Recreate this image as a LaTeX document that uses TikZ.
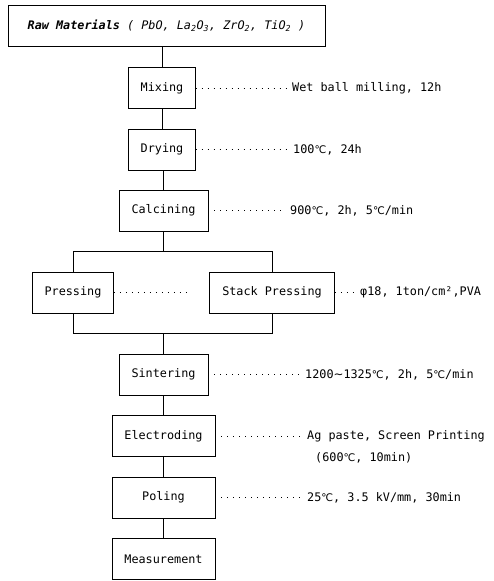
\documentclass[tikz,border=0pt]{standalone}
\usepackage{fontspec}
\setmonofont{DejaVu Sans Mono}
\newfontfamily\symfont{DejaVu Sans}
\usepackage{tikz}

\newcommand{\degc}{{\symfont\fontsize{10.5}{12}\selectfont\char"2103}}
\newcommand{\wave}{{\symfont\char"223C}}

\begin{document}
\begin{tikzpicture}[x=1pt, y=-1pt,
	box/.style={draw, line width=0.6pt, minimum height=41pt, inner xsep=12pt,
		font=\ttfamily\fontsize{11.8}{14}\selectfont},
	note/.style={anchor=west, inner sep=0pt, font=\ttfamily\fontsize{11.8}{14}\selectfont},
	dotline/.style={line width=0.7pt, dash pattern=on 0.8pt off 5.2pt, shorten >=5pt}]

	\useasboundingbox (0,0) rectangle (493,581);

	% process steps
	\node[box, minimum width=317pt] (raw) at (166.5,26)
		{{\bfseries\itshape Raw Materials} {\itshape ( PbO, La\textsubscript{2}O\textsubscript{3}, ZrO\textsubscript{2}, TiO\textsubscript{2} )}};
	\node[box, minimum width=66pt] (mix) at (162,88) {Mixing};
	\node[box, minimum width=66pt] (dry) at (162,149.5) {Drying};
	\node[box, minimum width=89pt] (calc) at (163.5,210.5) {Calcining};
	\node[box, minimum width=81pt] (press) at (73,292.5) {Pressing};
	\node[box, minimum width=125pt] (stack) at (272,292.5) {Stack Pressing};
	\node[box, minimum width=89pt] (sint) at (163.5,374.5) {Sintering};
	\node[box, minimum width=103pt] (elec) at (163.5,436) {Electroding};
	\node[box, minimum width=103pt] (pol) at (163.5,497.5) {Poling};
	\node[box, minimum width=103pt] (meas) at (163.5,559) {Measurement};

	\coordinate (split) at (163.5,251);
	\coordinate (join) at (163.5,333);
	\coordinate (pressend) at (190,292.5);

	% conditions
	\node[note] (mix-note) at (292,88) {Wet ball milling, 12h};
	\node[note] (dry-note) at (293,149.5) {100\degc, 24h};
	\node[note] (calc-note) at (290,210.5) {900\degc, 2h, 5\degc/min};
	\node[note] (stack-note) at (360,292.5) {φ18, 1ton/cm²,PVA};
	\node[note] (sint-note) at (305,374.5) {1200\wave1325\degc, 2h, 5\degc/min};
	\node[note] (elec-note) at (307,436) {Ag paste, Screen Printing};
	\node[note] (elec-note2) at (315,458) {(600\degc, 10min)};
	\node[note] (pol-note) at (307,497.5) {25\degc, 3.5 kV/mm, 30min};

	% flow
	\foreach \a/\b in {raw/mix, mix/dry, dry/calc, sint/elec, elec/pol, pol/meas}
		\draw[line width=0.6pt] (\b |- \a.south) -- (\b.north);

	\draw[line width=0.6pt] (calc.south) -- (split);
	\draw[line width=0.6pt] (press.north) -- (press |- split) -- (stack |- split) -- (stack.north);
	\draw[line width=0.6pt] (press.south) -- (press |- join) -- (stack |- join) -- (stack.south);
	\draw[line width=0.6pt] (join) -- (sint.north);

	% dotted leaders
	\foreach \n in {mix, dry, calc, stack, sint, elec, pol}
		\draw[dotline] (\n.east) -- (\n-note.west);
	\draw[dotline, shorten >=0pt] (press.east) -- (pressend);

\end{tikzpicture}
\end{document}
